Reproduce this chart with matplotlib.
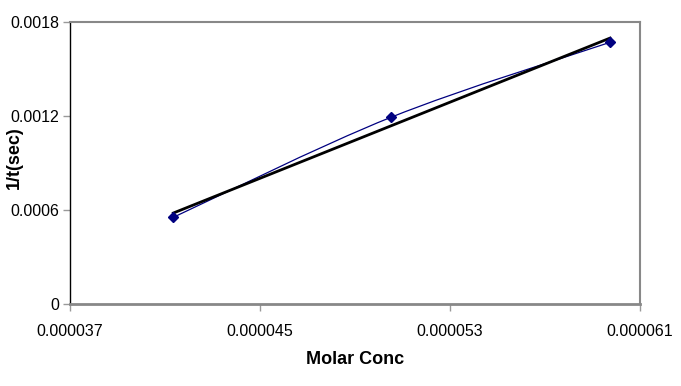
import numpy as np
import matplotlib
matplotlib.use("Agg")
import matplotlib.pyplot as plt
from matplotlib.path import Path
from matplotlib.patches import PathPatch

plt.rcParams['font.family'] = ['Liberation Sans', 'DejaVu Sans']

molar_conc = [0.00004135, 0.00005052, 0.00005974]
inv_time = [0.000551, 0.001191, 0.001670]
x_ticks = [0.000037, 0.000045, 0.000053, 0.000061]
x_tick_labels = ["0.000037", "0.000045", "0.000053", "0.000061"]
y_ticks = [0, 0.0006, 0.0012, 0.0018]
y_tick_labels = ["0", "0.0006", "0.0012", "0.0018"]

fig = plt.figure(figsize=(6.81, 3.86), dpi=100)
ax = fig.add_axes([70/681, 1-303.5/386, 570/681, 281.5/386])
ax.set_xlim(x_ticks[0], x_ticks[-1])
ax.set_ylim(y_ticks[0], y_ticks[-1])

# smoothed series line (Bezier through points, like Excel smoothing)
x = np.array(molar_conc); y = np.array(inv_time)
verts = [(x[0], y[0])]
codes = [Path.MOVETO]
t = 1/6
for i in range(len(x)-1):
    p0 = i-1 if i > 0 else i
    p3 = i+2 if i+2 < len(x) else i+1
    c1 = (x[i] + (x[i+1]-x[p0])*t, y[i] + (y[i+1]-y[p0])*t)
    c2 = (x[i+1] - (x[p3]-x[i])*t, y[i+1] - (y[p3]-y[i])*t)
    verts += [c1, c2, (x[i+1], y[i+1])]
    codes += [Path.CURVE4]*3
ax.add_patch(PathPatch(Path(verts, codes), fill=False, edgecolor='#000080', lw=0.9, zorder=2))
ax.plot(molar_conc, inv_time, linestyle='none', marker='D', color='#000080', ms=5, zorder=4)

# linear trendline
k, b = np.polyfit(x, y, 1)
ax.plot([x[0], x[-1]], [k*x[0]+b, k*x[-1]+b], color='black', lw=2, zorder=3)

ax.set_xticks(x_ticks)
ax.set_xticklabels(x_tick_labels)
ax.set_yticks(y_ticks)
ax.set_yticklabels(y_tick_labels)
ax.tick_params(axis='both', direction='out', length=5, width=1, color='#999999', labelsize=11.5, labelcolor='black')
ax.tick_params(axis='x', pad=10)
ax.tick_params(axis='y', pad=3)

for s in ['top', 'right']:
    ax.spines[s].set_color('#888888'); ax.spines[s].set_linewidth(1.5)
ax.spines['bottom'].set_color('#888888'); ax.spines['bottom'].set_linewidth(2)
ax.spines['left'].set_color('black'); ax.spines['left'].set_linewidth(1)

ax.set_xlabel("Molar Conc", fontsize=13, fontweight='bold')
ax.xaxis.set_label_coords(0.5, -(359-303.5)/281.5)
ax.xaxis.label.set_va('center')
ax.set_ylabel("1/t(sec)", fontsize=13, fontweight='bold')
ax.yaxis.set_label_coords((14-70)/570, (303.5-158)/281.5)
ax.yaxis.label.set_va('center')

fig.savefig("out.png", dpi=100)
